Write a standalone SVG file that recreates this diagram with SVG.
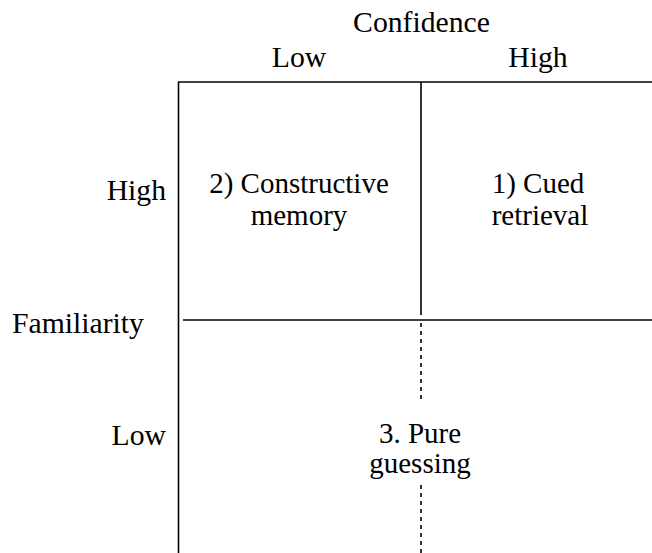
<svg xmlns="http://www.w3.org/2000/svg" width="652" height="553" viewBox="0 0 652 553">
<style>
.t{font-family:'Liberation Serif','Times New Roman','DejaVu Serif',serif;font-size:29px;fill:#000;text-anchor:middle}
.ax{font-size:29.7px}
.r{text-anchor:end}
.ln{stroke:#000;stroke-width:1.6;fill:none}
.dash{stroke:#000;stroke-width:1.6;stroke-dasharray:4 4;fill:none}
</style>
<rect width="652" height="553" fill="#fff"/>
<g id="axis-labels">
<text class="t ax" x="421.5" y="32">Confidence</text>
<text class="t ax" x="299" y="67">Low</text>
<text class="t ax" x="538" y="67">High</text>
<text class="t ax r" x="166" y="200">High</text>
<text class="t ax" x="78" y="333">Familiarity</text>
<text class="t ax r" x="166" y="445">Low</text>
</g>
<g id="connectors">
<line class="ln" x1="178" y1="82" x2="652" y2="82"/>
<line class="ln" x1="178.5" y1="82" x2="178.5" y2="553"/>
<line class="ln" x1="421" y1="82" x2="421" y2="315"/>
<line class="ln" x1="183" y1="320" x2="652" y2="320"/>
<line class="dash" x1="421" y1="323" x2="421" y2="400"/>
<line class="dash" x1="421" y1="485" x2="421" y2="553"/>
</g>
<g id="cell-constructive">
<text class="t" x="299" y="193">2) Constructive</text>
<text class="t" x="299" y="225">memory</text>
</g>
<g id="cell-cued">
<text class="t" x="538" y="193">1) Cued</text>
<text class="t" x="540" y="225">retrieval</text>
</g>
<g id="cell-guessing">
<text class="t" x="420" y="443">3. Pure</text>
<text class="t" x="420" y="473">guessing</text>
</g>
</svg>
